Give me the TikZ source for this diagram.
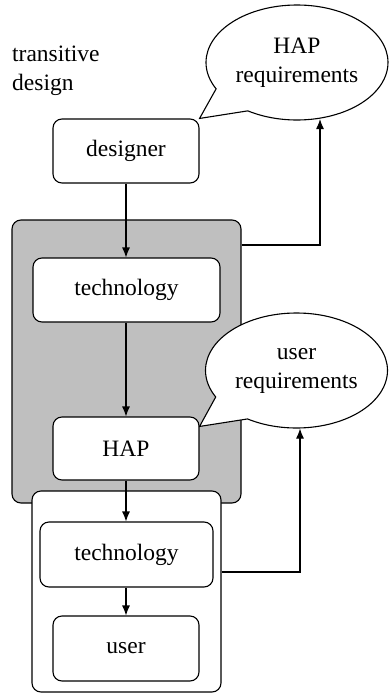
\documentclass[tikz,border=0pt]{standalone}
\usepackage{fontspec}
\setmainfont{Liberation Serif}
\usetikzlibrary{shapes.callouts,arrows.meta,calc}
\begin{document}
\begin{tikzpicture}[x=1pt,y=-1pt,
  every node/.style={font=\fontsize{23.5}{29}\selectfont},
  box/.style={draw, line width=1.1pt, rounded corners=9pt, fill=white, inner sep=0pt},
  bubble/.style={ellipse callout, draw, line width=1.1pt, fill=white, align=center, inner sep=0pt, minimum width=182pt, minimum height=115pt, callout pointer arc=30},
  conn/.style={line width=1.1pt, -{Latex[length=10pt,width=8pt]}}
]
\useasboundingbox (0,0) rectangle (390,693);
\node[box, fill=gray!50, minimum width=229pt, minimum height=283pt] (outer) at (126.5,361.5) {};
\node[box, minimum width=189pt, minimum height=201pt] (inner) at (126.5,591.5) {};
\node[box, minimum width=146pt, minimum height=64pt] (designer) at (126,151) {designer};
\node[box, minimum width=187pt, minimum height=64pt] (tech1) at (126.5,290) {technology};
\node[box, minimum width=146pt, minimum height=63pt] (hap) at (126,448.5) {HAP};
\node[box, minimum width=173pt, minimum height=65pt] (tech2) at (126.5,554.5) {technology};
\node[box, minimum width=146pt, minimum height=65pt] (user) at (126,648.5) {user};
\node[anchor=north west, inner sep=0pt, align=left] (title) at (12,46) {transitive\\design};

\draw[conn] (designer.south) -- (designer.south |- tech1.north);
\draw[conn] (tech1.south -| designer.south) -- (designer.south |- hap.north);
\draw[conn] (hap.south) -- (hap.south |- tech2.north);
\draw[conn] (tech2.south -| hap.south) -- (hap.south |- user.north);

\node[bubble, callout absolute pointer={(designer.north east)}] (req1) at (297,62.5) {HAP\\requirements};
\node[bubble, callout absolute pointer={($(hap.north east)+(0,10)$)}] (req2) at (296.5,370.5) {user\\requirements};

\coordinate (k1) at (320,245);
\coordinate (k2) at (300,572);
\draw[conn] (outer.east |- k1) -- (k1) -- ($(k1 |- req1.south)+(0,-1.5)$);
\draw[conn] (inner.east |- k2) -- (k2) -- ($(k2 |- req2.south)+(0,0)$);
\end{tikzpicture}
\end{document}
